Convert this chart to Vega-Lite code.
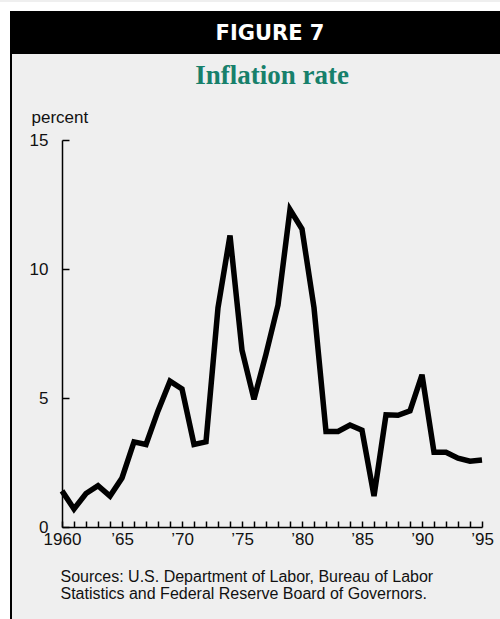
{
  "$schema": "https://vega.github.io/schema/vega-lite/v6.json",
  "background": "#efefef",
  "padding": 0,
  "spacing": 0,
  "bounds": "flush",
  "config": {
    "view": {"stroke": null},
    "concat": {"spacing": 0},
    "font": "Liberation Sans"
  },
  "hconcat": [
    {
      "width": 10,
      "height": 619,
      "view": {"fill": "white", "stroke": null},
      "data": {"values": [{}]},
      "mark": {"type": "text", "text": ""}
    },
    {
      "spacing": 0,
      "bounds": "flush",
      "vconcat": [
        {
          "width": 490,
          "height": 9,
          "view": {"fill": "white", "stroke": null},
          "data": {"values": [{}]},
          "mark": {"type": "text", "text": ""}
        },
        {
          "width": 490,
          "height": 43,
          "view": {"fill": "black", "stroke": null},
          "data": {"values": [{"label": "FIGURE 7"}]},
          "mark": {"type": "text", "font": "DejaVu Sans", "fontWeight": "bold", "fontSize": 21, "color": "white", "baseline": "middle", "align": "center", "dx": 15, "dy": 1.5},
          "encoding": {"text": {"field": "label"}}
        },
        {
          "spacing": 0,
          "bounds": "flush",
          "hconcat": [
            {
              "width": 2,
              "height": 567,
              "view": {"fill": "black", "stroke": null},
              "data": {"values": [{}]},
              "mark": {"type": "text", "text": ""}
            },
            {
              "spacing": 0,
              "bounds": "flush",
              "vconcat": [
                {
                  "width": 488,
                  "height": 86,
                  "data": {"values": [{"label": "Inflation rate"}]},
                  "mark": {"type": "text", "font": "Liberation Serif", "fontWeight": "bold", "fontSize": 27, "color": "#17806b", "baseline": "alphabetic", "align": "center", "dx": 16, "dy": -13},
                  "encoding": {"text": {"field": "label"}}
                },
                {
                  "spacing": 0,
                  "bounds": "flush",
                  "hconcat": [
                    {
                      "width": 50,
                      "height": 387,
                      "data": {"values": [{}]},
                      "mark": {"type": "text", "text": ""}
                    },
                    {
                      "width": 420,
                      "height": 387,
                      "data": {"values": [
                        {"year": 1960, "rate": 1.4},
                        {"year": 1961, "rate": 0.7},
                        {"year": 1962, "rate": 1.3},
                        {"year": 1963, "rate": 1.6},
                        {"year": 1964, "rate": 1.2},
                        {"year": 1965, "rate": 1.9},
                        {"year": 1966, "rate": 3.3},
                        {"year": 1967, "rate": 3.2},
                        {"year": 1968, "rate": 4.5},
                        {"year": 1969, "rate": 5.65},
                        {"year": 1970, "rate": 5.35},
                        {"year": 1971, "rate": 3.2},
                        {"year": 1972, "rate": 3.3},
                        {"year": 1973, "rate": 8.5},
                        {"year": 1974, "rate": 11.3},
                        {"year": 1975, "rate": 6.85},
                        {"year": 1976, "rate": 4.95},
                        {"year": 1977, "rate": 6.7},
                        {"year": 1978, "rate": 8.6},
                        {"year": 1979, "rate": 12.3},
                        {"year": 1980, "rate": 11.55},
                        {"year": 1981, "rate": 8.5},
                        {"year": 1982, "rate": 3.7},
                        {"year": 1983, "rate": 3.7},
                        {"year": 1984, "rate": 3.95},
                        {"year": 1985, "rate": 3.75},
                        {"year": 1986, "rate": 1.2},
                        {"year": 1987, "rate": 4.35},
                        {"year": 1988, "rate": 4.33},
                        {"year": 1989, "rate": 4.5},
                        {"year": 1990, "rate": 5.9},
                        {"year": 1991, "rate": 2.9},
                        {"year": 1992, "rate": 2.9},
                        {"year": 1993, "rate": 2.67},
                        {"year": 1994, "rate": 2.55},
                        {"year": 1995, "rate": 2.6}
                      ]},
                      "mark": {"type": "line", "color": "black", "strokeWidth": 5.5, "strokeJoin": "miter"},
                      "encoding": {
                        "x": {
                          "field": "year",
                          "type": "quantitative",
                          "scale": {"domain": [1960, 1995], "nice": false, "zero": false},
                          "axis": {
                            "values": [1960,1961,1962,1963,1964,1965,1966,1967,1968,1969,1970,1971,1972,1973,1974,1975,1976,1977,1978,1979,1980,1981,1982,1983,1984,1985,1986,1987,1988,1989,1990,1991,1992,1993,1994,1995],
                            "labelExpr": "datum.value % 5 === 0 ? (datum.value === 1960 ? '1960' : '’' + substring(toString(datum.value), 2)) : ''",
                            "labelOverlap": false,
                            "labelFlush": false,
                            "labelFontSize": 17,
                            "labelColor": "#111",
                            "labelBaseline": "top",
                            "labelPadding": 10,
                            "tickSize": -6,
                            "tickWidth": 1.5,
                            "tickColor": "black",
                            "domainColor": "black",
                            "domainWidth": 1.5,
                            "grid": false,
                            "title": ["Sources: U.S. Department of Labor, Bureau of Labor", "Statistics and Federal Reserve Board of Governors."],
                            "titleFontSize": 16,
                            "titleFontWeight": "normal",
                            "titleColor": "#111",
                            "titleAlign": "left",
                            "titleBaseline": "alphabetic",
                            "titleLineHeight": 17.5,
                            "titleX": -2,
                            "titleY": 54
                          }
                        },
                        "y": {
                          "field": "rate",
                          "type": "quantitative",
                          "scale": {"domain": [0, 15], "nice": false},
                          "axis": {
                            "values": [0, 5, 10, 15],
                            "labelFlush": false,
                            "labelFontSize": 17,
                            "labelColor": "#111",
                            "labelPadding": 21,
                            "tickSize": -7,
                            "tickWidth": 1.5,
                            "tickColor": "black",
                            "domainColor": "black",
                            "domainWidth": 1.5,
                            "grid": false,
                            "title": "percent",
                            "titleAngle": 0,
                            "titleFontSize": 17,
                            "titleFontWeight": "normal",
                            "titleColor": "#111",
                            "titleAlign": "left",
                            "titleBaseline": "alphabetic",
                            "titleX": -31,
                            "titleY": -18
                          }
                        }
                      }
                    }
                  ]
                }
              ]
            }
          ]
        }
      ]
    }
  ]
}
